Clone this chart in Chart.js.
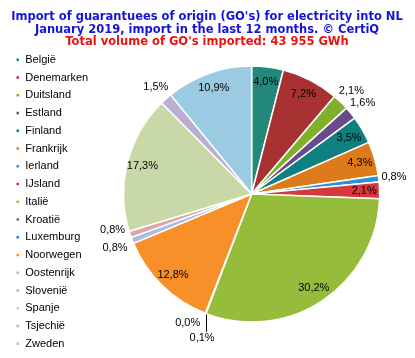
<!DOCTYPE html>
<html>
<head>
<meta charset="utf-8">
<script src="https://cdn.jsdelivr.net/npm/chart.js@4.4.1/dist/chart.umd.min.js"></script>
<style>
  html, body { margin: 0; padding: 0; background: #fff; }
  #wrap { width: 415px; height: 358px; }
</style>
</head>
<body>
<div id="wrap"><canvas id="goChart" width="415" height="358"></canvas></div>
<script>
// Countries in legend order (= slice order, clockwise from 12 o'clock)
const countries = [
  'België', 'Denemarken', 'Duitsland', 'Estland', 'Finland', 'Frankrijk',
  'Ierland', 'IJsland', 'Italië', 'Kroatië', 'Luxemburg', 'Noorwegen',
  'Oostenrijk', 'Slovenië', 'Spanje', 'Tsjechië', 'Zweden'
];

// Share of imported GO's (%)
const shares = [
  4.0, 7.2, 2.1, 1.6, 3.5, 4.3,
  0.8, 2.1, 30.2, 0.1, 0.0, 12.8,
  0.8, 0.8, 17.3, 1.5, 10.9
];

const sliceColors = [
  '#23887A', '#A83232', '#80B02A', '#6A4A8A', '#0E8080', '#DD7A1A',
  '#2E8FD8', '#D6383E', '#95BC3B', '#7E6196', '#1E7BD0', '#F79028',
  '#A6BFE4', '#DCA6A6', '#C8D8A6', '#BBAED2', '#9ACBE2'
];

const titleLines = [
  "Import of guarantuees of origin (GO's) for electricity into NL",
  'January 2019, import in the last 12 months. \u00A9 CertiQ'
];
const subtitleText = "Total volume of GO's imported: 43 955 GWh";

// Small slices get their label outside the pie
const outsideLabels = ['Duitsland', 'Estland', 'Ierland', 'Kroatië', 'Luxemburg', 'Oostenrijk', 'Slovenië', 'Tsjechië'];
// Neighbouring tiny slices: shift labels apart, one with a leader line
const labelNudge = {
  'Kroatië': { dx: 2, dy: 10, leader: true },
  'Luxemburg': { dx: -12, dy: -5 },
  'Oostenrijk': { dx: -3, dy: 2 },
  'Slovenië': { dx: -3, dy: -9 }
};

function fmtPct(v) {
  return v.toFixed(1).replace('.', ',') + '%';
}

// Plugin to draw the percentage labels on / around the slices
const pctLabels = {
  id: 'pctLabels',
  afterDatasetsDraw(chart) {
    const ctx = chart.ctx;
    const meta = chart.getDatasetMeta(0);
    ctx.save();
    ctx.font = '11px "Liberation Sans", Arial, sans-serif';
    ctx.fillStyle = '#000';
    ctx.textAlign = 'center';
    ctx.textBaseline = 'middle';
    meta.data.forEach((arc, i) => {
      const p = arc.getProps(['x', 'y', 'startAngle', 'endAngle', 'outerRadius'], true);
      const mid = (p.startAngle + p.endAngle) / 2;
      const name = countries[i];
      const r = p.outerRadius * (outsideLabels.includes(name) ? 1.12 : 0.88);
      let lx = p.x + Math.cos(mid) * r;
      let ly = p.y + Math.sin(mid) * r;
      const nudge = labelNudge[name];
      if (nudge) {
        lx += nudge.dx;
        ly += nudge.dy;
        if (nudge.leader) {
          const ex = p.x + Math.cos(mid) * p.outerRadius;
          const ey = p.y + Math.sin(mid) * p.outerRadius;
          ctx.strokeStyle = '#000';
          ctx.lineWidth = 1;
          ctx.beginPath();
          ctx.moveTo(Math.round(ex) + 0.5, ey + 1);
          ctx.lineTo(Math.round(ex) + 0.5, ly - 6);
          ctx.stroke();
        }
      }
      ctx.fillText(fmtPct(shares[i]), lx, ly);
    });
    ctx.restore();
  }
};

const ctx = document.getElementById('goChart').getContext('2d');
const goChart = new Chart(ctx, {
  type: 'pie',
  data: {
    labels: countries,
    datasets: [{
      data: shares,
      backgroundColor: sliceColors,
      borderColor: '#ffffff',
      borderWidth: 1.5
    }]
  },
  options: {
    responsive: false,
    animation: false,
    radius: 128,
    layout: { padding: { left: 9, right: 10, bottom: 2 } },
    plugins: {
      title: {
        display: true,
        text: titleLines,
        color: '#1414D8',
        font: { family: 'DejaVu Sans', size: 11.5, weight: 'bold', lineHeight: '13px' },
        padding: { top: 10.5, bottom: -14 }
      },
      subtitle: {
        display: true,
        text: subtitleText,
        color: '#EE1111',
        font: { family: 'DejaVu Sans', size: 11.5, weight: 'bold', lineHeight: '13px' },
        padding: { top: 13, bottom: -16.5 }
      },
      legend: {
        position: 'left',
        align: 'end',
        labels: {
          boxWidth: 4,
          boxHeight: 4,
          padding: 6.75,
          color: '#000',
          font: { family: 'Liberation Sans', size: 11 }
        }
      },
      tooltip: { enabled: false }
    }
  },
  plugins: [pctLabels]
});
</script>
</body>
</html>
